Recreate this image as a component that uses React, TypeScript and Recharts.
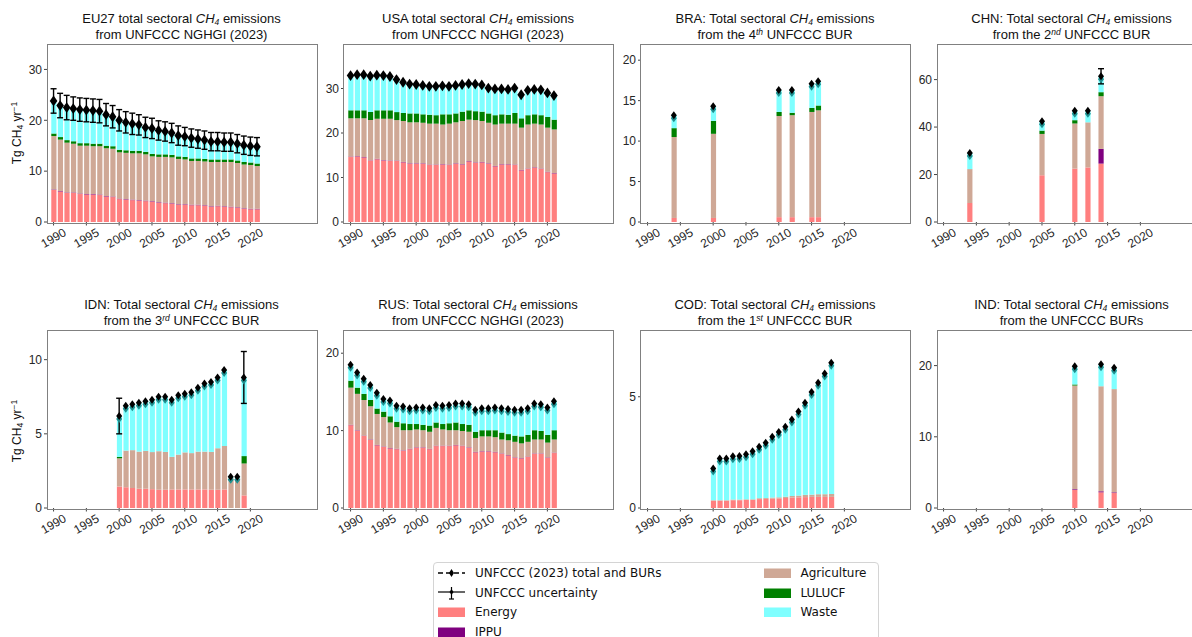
import React from 'react'
import { ComposedChart, Bar, Scatter, ErrorBar, XAxis, YAxis } from 'recharts'

const FONT = '"Liberation Sans", Arial, sans-serif'
const LEGEND_FONT = '"DejaVu Sans", sans-serif'

const C = {
  energy: '#ff7f7f',
  ippu: '#7f007f',
  agri: '#cfa896',
  lulucf: '#008000',
  waste: '#7fffff',
  teal: '#1f8f8f',
}

const X_TICKS = [1990, 1995, 2000, 2005, 2010, 2015, 2020]

const YEARS_1990_2021 = [
  1990, 1991, 1992, 1993, 1994, 1995, 1996, 1997, 1998, 1999, 2000, 2001, 2002, 2003, 2004, 2005,
  2006, 2007, 2008, 2009, 2010, 2011, 2012, 2013, 2014, 2015, 2016, 2017, 2018, 2019, 2020, 2021,
]

// EU27 (NGHGI 2023)
const EU_ENERGY = [6.3, 6.0, 5.7, 5.7, 5.5, 5.4, 5.4, 5.3, 5.0, 4.9, 4.5, 4.4, 4.3, 4.2, 4.1, 4.0, 3.8, 3.7, 3.6, 3.4, 3.4, 3.3, 3.3, 3.2, 3.0, 3.1, 3.0, 2.9, 2.8, 2.6, 2.5, 2.5]
const EU_IPPU = [0.1, 0.1, 0.1, 0.1, 0.1, 0.1, 0.1, 0.1, 0.1, 0.1, 0.1, 0.1, 0.1, 0.1, 0.1, 0.1, 0.1, 0.1, 0.1, 0.1, 0.1, 0.1, 0.1, 0.1, 0.1, 0.1, 0.1, 0.1, 0.1, 0.1, 0.1, 0.1]
const EU_AGRI = [10.5, 10.1, 9.8, 9.6, 9.4, 9.5, 9.4, 9.5, 9.4, 9.4, 9.1, 9.1, 9.1, 9.2, 9.1, 8.8, 8.9, 9.0, 9.0, 8.9, 8.8, 8.6, 8.6, 8.6, 8.7, 8.6, 8.7, 8.8, 8.7, 8.6, 8.6, 8.4]
const EU_LULUCF = [0.5, 0.5, 0.5, 0.5, 0.5, 0.5, 0.5, 0.5, 0.5, 0.5, 0.5, 0.5, 0.5, 0.5, 0.5, 0.5, 0.5, 0.5, 0.5, 0.5, 0.5, 0.5, 0.5, 0.5, 0.5, 0.5, 0.5, 0.5, 0.5, 0.5, 0.5, 0.5]
const EU_WASTE = [6.4, 6.2, 6.4, 6.4, 6.6, 6.5, 6.5, 6.4, 6.1, 5.8, 5.8, 5.5, 5.3, 5.1, 4.8, 5.0, 4.7, 4.5, 4.3, 4.1, 4.0, 4.0, 3.8, 3.7, 3.5, 3.5, 3.4, 3.4, 3.3, 3.3, 3.2, 3.3]
const EU_TOTAL = [23.8, 22.9, 22.5, 22.3, 22.1, 22.0, 21.9, 21.8, 21.1, 20.7, 20.0, 19.6, 19.3, 19.1, 18.6, 18.4, 18.0, 17.8, 17.5, 17.0, 16.8, 16.5, 16.3, 16.1, 15.8, 15.8, 15.7, 15.7, 15.4, 15.1, 14.9, 14.8]
const EU_ERR = [2.4, 2.4, 2.4, 2.3, 2.3, 2.3, 2.3, 2.3, 2.2, 2.2, 2.1, 2.1, 2.1, 2.0, 2.0, 2.0, 1.9, 1.9, 1.9, 1.9, 1.8, 1.8, 1.8, 1.8, 1.8, 1.8, 1.8, 1.8, 1.8, 1.8, 1.8, 1.8]

// USA (NGHGI 2023)
const USA_ENERGY = [14.6, 14.7, 14.5, 13.8, 14.1, 13.8, 13.7, 13.7, 13.4, 13.1, 13.1, 13.1, 12.8, 12.8, 12.9, 12.8, 13.1, 12.9, 13.6, 13.3, 13.4, 13.1, 12.5, 12.9, 12.9, 12.8, 11.6, 11.9, 12.2, 11.9, 11.2, 10.9]
const USA_IPPU = [0.1, 0.1, 0.1, 0.1, 0.1, 0.1, 0.1, 0.1, 0.1, 0.1, 0.1, 0.1, 0.1, 0.1, 0.1, 0.1, 0.1, 0.1, 0.1, 0.1, 0.1, 0.1, 0.1, 0.1, 0.1, 0.1, 0.1, 0.1, 0.1, 0.1, 0.1, 0.1]
const USA_AGRI = [8.6, 8.5, 8.7, 9.0, 9.0, 9.3, 9.4, 9.1, 9.2, 9.2, 9.2, 9.1, 9.2, 9.2, 8.9, 9.2, 9.2, 9.7, 9.3, 9.5, 9.2, 9.1, 9.3, 9.1, 9.1, 9.2, 9.5, 9.9, 9.8, 9.9, 9.9, 9.8]
const USA_LULUCF = [1.8, 1.8, 1.8, 1.8, 1.9, 1.9, 1.9, 1.8, 1.8, 2.0, 2.0, 1.9, 2.0, 1.9, 2.3, 2.1, 2.0, 2.1, 2.1, 2.0, 2.1, 2.1, 2.1, 2.1, 2.0, 2.4, 2.1, 2.1, 2.1, 2.1, 2.4, 2.2]
const USA_WASTE = [7.8, 8.0, 8.0, 8.1, 7.9, 7.8, 7.6, 7.3, 6.9, 6.6, 6.5, 6.5, 6.4, 6.5, 6.4, 6.3, 6.3, 6.1, 6.0, 6.1, 6.0, 5.7, 5.9, 5.7, 5.7, 5.6, 5.3, 5.6, 5.6, 5.7, 5.4, 5.4]
const USA_TOTAL = [32.9, 33.1, 33.1, 32.8, 33.0, 32.9, 32.7, 32.0, 31.4, 31.0, 30.9, 30.7, 30.5, 30.5, 30.6, 30.5, 30.7, 30.9, 31.1, 31.0, 30.8, 30.1, 29.9, 29.9, 29.8, 30.1, 28.6, 29.6, 29.8, 29.7, 29.0, 28.4]

// BRA (4th BUR)
const BRA_YEARS = [1994, 2000, 2010, 2012, 2015, 2016]
const BRA_ENERGY = [0.5, 0.5, 0.6, 0.6, 0.6, 0.6]
const BRA_IPPU = [0, 0, 0, 0, 0, 0]
const BRA_AGRI = [10.0, 10.4, 12.5, 12.6, 13.0, 13.2]
const BRA_LULUCF = [1.1, 1.6, 0.5, 0.3, 0.5, 0.6]
const BRA_WASTE = [1.6, 1.8, 2.7, 2.8, 3.0, 3.0]
const BRA_TOTAL = [13.2, 14.3, 16.3, 16.3, 17.1, 17.4]

// CHN (2nd BUR)
const CHN_YEARS = [1994, 2005, 2010, 2012, 2014]
const CHN_ENERGY = [8.0, 19.7, 22.5, 23.0, 24.6]
const CHN_IPPU = [0, 0, 0, 0, 6.2]
const CHN_AGRI = [14.3, 17.4, 19.0, 19.0, 22.2]
const CHN_LULUCF = [0, 1.4, 1.4, 0, 1.7]
const CHN_WASTE = [6.8, 3.9, 4.0, 4.9, 6.7]
const CHN_TOTAL = [29.1, 42.4, 46.9, 46.9, 61.4]
const CHN_ERR = [null, null, null, null, 3.2]

// IDN (3rd BUR)
const IDN_YEARS = [2000, 2001, 2002, 2003, 2004, 2005, 2006, 2007, 2008, 2009, 2010, 2011, 2012, 2013, 2014, 2015, 2016, 2017, 2018, 2019]
const IDN_ENERGY = [1.45, 1.4, 1.35, 1.3, 1.3, 1.27, 1.23, 1.23, 1.25, 1.25, 1.25, 1.25, 1.25, 1.25, 1.23, 1.23, 1.25, 0, 0, 0.85]
const IDN_IPPU = [0, 0, 0, 0, 0, 0, 0, 0, 0, 0, 0, 0, 0, 0, 0, 0, 0, 0, 0, 0]
const IDN_AGRI = [1.9, 2.47, 2.55, 2.5, 2.55, 2.5, 2.6, 2.55, 2.2, 2.35, 2.5, 2.45, 2.55, 2.55, 2.55, 2.8, 2.93, 2.0, 2.0, 2.15]
const IDN_LULUCF = [0.1, 0, 0, 0, 0, 0, 0, 0, 0, 0, 0, 0, 0, 0, 0, 0, 0, 0, 0, 0.5]
const IDN_WASTE = [2.75, 3.03, 3.1, 3.3, 3.35, 3.53, 3.67, 3.72, 3.85, 4.0, 3.95, 4.1, 4.3, 4.6, 4.72, 4.77, 5.12, 0.1, 0.1, 5.3]
const IDN_TOTAL = [6.2, 6.9, 7.0, 7.1, 7.2, 7.3, 7.5, 7.5, 7.3, 7.6, 7.7, 7.8, 8.1, 8.4, 8.5, 8.8, 9.3, 2.1, 2.1, 8.8]
const IDN_ERR = [1.2, null, null, null, null, null, null, null, null, null, null, null, null, null, null, null, null, null, null, 1.75]

// RUS (NGHGI 2023)
const RUS_ENERGY = [10.7, 10.0, 9.3, 8.8, 8.1, 7.9, 7.7, 7.6, 7.4, 7.6, 7.8, 7.8, 7.6, 8.0, 8.0, 8.0, 8.1, 8.0, 7.8, 7.2, 7.3, 7.3, 7.2, 7.0, 6.8, 6.5, 6.4, 6.6, 7.0, 7.0, 6.5, 7.1]
const RUS_IPPU = [0.05, 0.05, 0.05, 0.05, 0.05, 0.05, 0.05, 0.05, 0.05, 0.05, 0.05, 0.05, 0.05, 0.05, 0.05, 0.05, 0.05, 0.05, 0.05, 0.05, 0.05, 0.05, 0.05, 0.05, 0.05, 0.05, 0.05, 0.05, 0.05, 0.05, 0.05, 0.05]
const RUS_AGRI = [4.8, 4.7, 4.6, 4.3, 4.0, 3.8, 3.3, 2.8, 2.6, 2.4, 2.3, 2.2, 2.2, 2.3, 2.1, 2.0, 1.9, 1.9, 2.0, 1.8, 1.9, 1.9, 1.9, 1.8, 1.9, 2.0, 1.9, 1.9, 1.8, 1.8, 1.9, 1.7]
const RUS_LULUCF = [0.9, 0.8, 0.8, 0.8, 0.7, 0.7, 0.8, 0.7, 0.9, 0.8, 0.7, 0.7, 0.8, 0.7, 0.7, 0.9, 1.0, 0.9, 0.9, 0.8, 0.8, 0.8, 0.9, 0.9, 0.8, 0.8, 0.9, 0.9, 1.2, 1.1, 1.0, 1.2]
const RUS_WASTE = [2.1, 2.0, 2.0, 2.0, 2.1, 1.7, 2.1, 2.1, 2.2, 2.1, 2.2, 2.3, 2.3, 2.3, 2.4, 2.4, 2.5, 2.7, 2.7, 2.9, 2.9, 2.9, 3.0, 3.2, 3.3, 3.4, 3.5, 3.5, 3.5, 3.5, 3.6, 3.8]
const RUS_TOTAL = [18.5, 17.5, 16.7, 15.9, 14.9, 14.1, 13.9, 13.2, 13.1, 12.9, 13.0, 13.0, 12.9, 13.3, 13.2, 13.3, 13.5, 13.5, 13.4, 12.7, 12.9, 12.9, 13.0, 12.9, 12.8, 12.7, 12.7, 12.9, 13.5, 13.4, 13.0, 13.8]

// COD (1st BUR)
const COD_YEARS = [2000, 2001, 2002, 2003, 2004, 2005, 2006, 2007, 2008, 2009, 2010, 2011, 2012, 2013, 2014, 2015, 2016, 2017, 2018]
const COD_ENERGY = [0.33, 0.33, 0.33, 0.35, 0.35, 0.36, 0.36, 0.4, 0.41, 0.42, 0.43, 0.45, 0.47, 0.48, 0.49, 0.5, 0.5, 0.5, 0.5]
const COD_IPPU = [0, 0, 0, 0, 0, 0, 0, 0, 0, 0, 0, 0, 0, 0, 0, 0, 0, 0, 0]
const COD_AGRI = [0.02, 0.02, 0.02, 0.03, 0.03, 0.03, 0.03, 0.04, 0.04, 0.05, 0.05, 0.06, 0.07, 0.08, 0.1, 0.1, 0.12, 0.12, 0.13]
const COD_LULUCF = [0, 0, 0, 0, 0, 0, 0, 0, 0, 0, 0, 0, 0, 0, 0, 0, 0, 0, 0]
const COD_WASTE = [1.42, 1.87, 1.87, 1.95, 1.96, 2.03, 2.16, 2.31, 2.48, 2.73, 2.94, 3.14, 3.44, 3.78, 4.14, 4.61, 5.01, 5.43, 5.9]
const COD_TOTAL = [1.77, 2.22, 2.22, 2.33, 2.34, 2.42, 2.55, 2.75, 2.93, 3.2, 3.42, 3.65, 3.98, 4.34, 4.73, 5.21, 5.63, 6.05, 6.53]

// IND (BURs)
const IND_YEARS = [2010, 2014, 2016]
const IND_ENERGY = [2.55, 2.2, 2.1]
const IND_IPPU = [0.1, 0.15, 0.1]
const IND_AGRI = [14.55, 14.75, 14.5]
const IND_LULUCF = [0.15, 0, 0]
const IND_WASTE = [2.55, 3.1, 3.0]
const IND_TOTAL = [19.9, 20.2, 19.7]

const PLOT_W = 269
const PLOT_H = 178
const AXIS_W = 40

const Sub = ({ children }: any) => (
  <span style={{ fontSize: 8.5, position: 'relative', top: 2, fontStyle: 'italic' }}>{children}</span>
)
const Sup = ({ children }: any) => (
  <span style={{ fontSize: 8.5, position: 'relative', top: -4, fontStyle: 'italic' }}>{children}</span>
)
const CH4 = () => (
  <>
    <i>CH</i>
    <Sub>4</Sub>
  </>
)

function Marker(props: any) {
  const { cx, cy, teal, big } = props
  if (cx == null || cy == null) return null
  const w = big ? 3.8 : 3
  const h = big ? 5.4 : 4
  const d = (y: number) => `M${cx},${y - h} L${cx + w},${y} L${cx},${y + h} L${cx - w},${y} Z`
  return (
    <g>
      {teal && <path d={d(cy + 3)} fill={C.teal} />}
      <path d={d(cy)} fill="#000" />
    </g>
  )
}

function XTick(props: any) {
  const { x, y, payload } = props
  const ty = y + 10.5
  return (
    <text
      x={x}
      y={ty}
      transform={`rotate(-30 ${x} ${ty})`}
      textAnchor="middle"
      dominantBaseline="central"
      fontSize={12}
      fill="#262626"
      fontFamily={FONT}
    >
      {payload.value}
    </text>
  )
}

function Panel({ p }: any) {
  const data = p.years.map((year: number, i: number) => ({
    year,
    energy: p.energy[i],
    ippu: p.ippu[i],
    agri: p.agri[i],
    lulucf: p.lulucf[i],
    waste: p.waste[i],
    total: p.total[i],
    err: p.err ? p.err[i] : null,
  }))
  const bar = { stackId: 's', barSize: 5.2, isAnimationActive: false }
  return (
    <>
      <div
        style={{
          position: 'absolute',
          left: p.left - 20,
          top: p.top - 32,
          width: PLOT_W + 40,
          textAlign: 'center',
          fontFamily: FONT,
          fontSize: 13,
          lineHeight: '13.5px',
          color: '#111',
          whiteSpace: 'nowrap',
        }}
      >
        <div>{p.title1}</div>
        <div>{p.title2}</div>
      </div>
      <div style={{ position: 'absolute', left: p.left - AXIS_W, top: p.top }}>
        <ComposedChart
          width={AXIS_W + PLOT_W}
          height={PLOT_H + 40}
          data={data}
          margin={{ top: 0, right: 0, bottom: 0, left: 0 }}
        >
          <XAxis
            dataKey="year"
            type="number"
            domain={[1989, 2030]}
            ticks={X_TICKS}
            interval={0}
            allowDataOverflow
            axisLine={false}
            tickLine={{ stroke: '#444' }}
            tickSize={3.5}
            tick={<XTick />}
            height={40}
          />
          <YAxis
            type="number"
            domain={[0, p.yMax]}
            ticks={p.yTicks}
            interval={0}
            allowDataOverflow
            width={AXIS_W}
            axisLine={false}
            tickLine={{ stroke: '#444' }}
            tickSize={3}
            tick={{ fontSize: 12, fill: '#262626', fontFamily: FONT }}
          />
          <Bar dataKey="energy" fill={C.energy} {...bar} />
          <Bar dataKey="ippu" fill={C.ippu} {...bar} />
          <Bar dataKey="agri" fill={C.agri} {...bar} />
          <Bar dataKey="lulucf" fill={C.lulucf} {...bar} />
          <Bar dataKey="waste" fill={C.waste} {...bar} />
          <Scatter
            dataKey="total"
            isAnimationActive={false}
            shape={(s: any) => <Marker {...s} teal={p.teal} big={p.big} />}
          >
            <ErrorBar dataKey="err" direction="y" width={3} stroke="#000" strokeWidth={1.4} />
          </Scatter>
        </ComposedChart>
      </div>
      <div
        style={{
          position: 'absolute',
          left: p.left - 0.5,
          top: p.top - 0.5,
          width: PLOT_W,
          height: PLOT_H,
          border: '1px solid #808080',
          pointerEvents: 'none',
        }}
      />
    </>
  )
}

const PANELS = [
  {
    title1: <>EU27 total sectoral <CH4 /> emissions</>,
    title2: <>from UNFCCC NGHGI (2023)</>,
    left: 47, top: 44, yMax: 35, yTicks: [0, 10, 20, 30], big: true, teal: false,
    years: YEARS_1990_2021, energy: EU_ENERGY, ippu: EU_IPPU, agri: EU_AGRI, lulucf: EU_LULUCF,
    waste: EU_WASTE, total: EU_TOTAL, err: EU_ERR,
  },
  {
    title1: <>USA total sectoral <CH4 /> emissions</>,
    title2: <>from UNFCCC NGHGI (2023)</>,
    left: 343.5, top: 44, yMax: 40, yTicks: [0, 10, 20, 30], big: true, teal: false,
    years: YEARS_1990_2021, energy: USA_ENERGY, ippu: USA_IPPU, agri: USA_AGRI, lulucf: USA_LULUCF,
    waste: USA_WASTE, total: USA_TOTAL,
  },
  {
    title1: <>BRA: Total sectoral <CH4 /> emissions</>,
    title2: <>from the 4<Sup>th</Sup> UNFCCC BUR</>,
    left: 640.5, top: 44, yMax: 22, yTicks: [0, 5, 10, 15, 20], big: false, teal: true,
    years: BRA_YEARS, energy: BRA_ENERGY, ippu: BRA_IPPU, agri: BRA_AGRI, lulucf: BRA_LULUCF,
    waste: BRA_WASTE, total: BRA_TOTAL,
  },
  {
    title1: <>CHN: Total sectoral <CH4 /> emissions</>,
    title2: <>from the 2<Sup>nd</Sup> UNFCCC BUR</>,
    left: 937, top: 44, yMax: 75, yTicks: [0, 20, 40, 60], big: false, teal: true,
    years: CHN_YEARS, energy: CHN_ENERGY, ippu: CHN_IPPU, agri: CHN_AGRI, lulucf: CHN_LULUCF,
    waste: CHN_WASTE, total: CHN_TOTAL, err: CHN_ERR,
  },
  {
    title1: <>IDN: Total sectoral <CH4 /> emissions</>,
    title2: <>from the 3<Sup>rd</Sup> UNFCCC BUR</>,
    left: 47, top: 330, yMax: 12, yTicks: [0, 5, 10], big: false, teal: true,
    years: IDN_YEARS, energy: IDN_ENERGY, ippu: IDN_IPPU, agri: IDN_AGRI, lulucf: IDN_LULUCF,
    waste: IDN_WASTE, total: IDN_TOTAL, err: IDN_ERR,
  },
  {
    title1: <>RUS: Total sectoral <CH4 /> emissions</>,
    title2: <>from UNFCCC NGHGI (2023)</>,
    left: 343.5, top: 330, yMax: 23, yTicks: [0, 10, 20], big: false, teal: true,
    years: YEARS_1990_2021, energy: RUS_ENERGY, ippu: RUS_IPPU, agri: RUS_AGRI, lulucf: RUS_LULUCF,
    waste: RUS_WASTE, total: RUS_TOTAL,
  },
  {
    title1: <>COD: Total sectoral <CH4 /> emissions</>,
    title2: <>from the 1<Sup>st</Sup> UNFCCC BUR</>,
    left: 640.5, top: 330, yMax: 8, yTicks: [0, 5], big: false, teal: true,
    years: COD_YEARS, energy: COD_ENERGY, ippu: COD_IPPU, agri: COD_AGRI, lulucf: COD_LULUCF,
    waste: COD_WASTE, total: COD_TOTAL,
  },
  {
    title1: <>IND: Total sectoral <CH4 /> emissions</>,
    title2: <>from the UNFCCC BURs</>,
    left: 937, top: 330, yMax: 25, yTicks: [0, 10, 20], big: false, teal: true,
    years: IND_YEARS, energy: IND_ENERGY, ippu: IND_IPPU, agri: IND_AGRI, lulucf: IND_LULUCF,
    waste: IND_WASTE, total: IND_TOTAL,
  },
]

function YLabel({ top }: { top: number }) {
  return (
    <div
      style={{
        position: 'absolute',
        left: 17,
        top,
        transform: 'translate(-50%, -50%) rotate(-90deg)',
        whiteSpace: 'nowrap',
        fontFamily: FONT,
        fontSize: 12,
        color: '#111',
      }}
    >
      Tg CH<span style={{ fontSize: 8.5, position: 'relative', top: 2 }}>4</span> yr
      <span style={{ fontSize: 8.5, position: 'relative', top: -4 }}>−1</span>
    </div>
  )
}

function Patch({ color }: { color: string }) {
  return (
    <svg width={27} height={12}>
      <rect x={0} y={1.5} width={27} height={9.5} fill={color} />
    </svg>
  )
}

function LegendItem({ x, y, handle, label }: any) {
  return (
    <div style={{ position: 'absolute', left: x, top: y - 7, display: 'flex', alignItems: 'center', height: 14 }}>
      <div style={{ width: 27, height: 12, marginRight: 10 }}>{handle}</div>
      <span style={{ whiteSpace: 'nowrap' }}>{label}</span>
    </div>
  )
}

function Legend() {
  const totalHandle = (
    <svg width={27} height={12}>
      <line x1={0} y1={6} x2={27} y2={6} stroke="#000" strokeWidth={1.3} strokeDasharray="5 3" />
      <path d="M13.5,2 L16,6 L13.5,10 L11,6 Z" fill="#000" />
    </svg>
  )
  const uncHandle = (
    <svg width={27} height={14} style={{ marginTop: -1 }}>
      <line x1={0} y1={6} x2={27} y2={6} stroke="#000" strokeWidth={1.2} />
      <line x1={13.5} y1={1} x2={13.5} y2={13} stroke="#000" strokeWidth={1.2} />
      <line x1={11} y1={13} x2={16} y2={13} stroke="#000" strokeWidth={1.2} />
      <path d="M13.5,3 L15.5,6 L13.5,9 L11.5,6 Z" fill="#000" />
    </svg>
  )
  return (
    <div
      style={{
        position: 'absolute',
        left: 433,
        top: 562,
        width: 444,
        height: 100,
        border: '1px solid #d4d4d4',
        borderRadius: 4,
        background: '#fff',
        fontFamily: LEGEND_FONT,
        fontSize: 12,
        color: '#111',
      }}
    >
      <LegendItem x={4} y={10} handle={totalHandle} label="UNFCCC (2023) total and BURs" />
      <LegendItem x={4} y={29.5} handle={uncHandle} label="UNFCCC uncertainty" />
      <LegendItem x={4} y={49} handle={<Patch color={C.energy} />} label="Energy" />
      <LegendItem x={4} y={68.5} handle={<Patch color={C.ippu} />} label="IPPU" />
      <LegendItem x={329.5} y={10} handle={<Patch color={C.agri} />} label="Agriculture" />
      <LegendItem x={329.5} y={29.5} handle={<Patch color={C.lulucf} />} label="LULUCF" />
      <LegendItem x={329.5} y={49} handle={<Patch color={C.waste} />} label="Waste" />
    </div>
  )
}

export default function App() {
  return (
    <div
      style={{
        position: 'absolute',
        left: 0,
        top: 0,
        width: 1192,
        height: 637,
        overflow: 'hidden',
        background: '#fff',
      }}
    >
      {PANELS.map((p, i) => (
        <Panel key={i} p={p} />
      ))}
      <YLabel top={133} />
      <YLabel top={431} />
      <Legend />
    </div>
  )
}
